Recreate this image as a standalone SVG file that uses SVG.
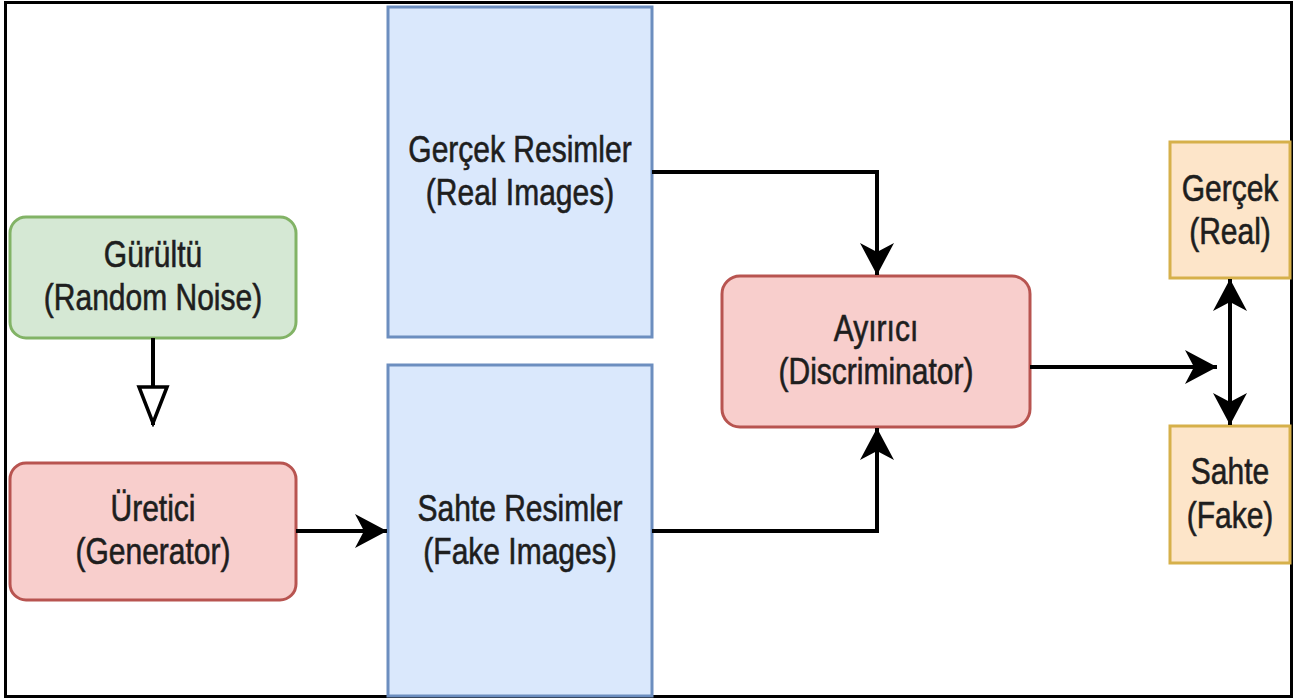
<svg xmlns="http://www.w3.org/2000/svg" width="1297" height="700" viewBox="0 0 1297 700">
<defs>
<style>
.t{font-family:"Liberation Sans",Arial,sans-serif;font-size:30px;fill:#1e1e1e;stroke:#1e1e1e;stroke-width:0.5;text-anchor:middle}
.green{fill:#d5e8d4;stroke:#82b366;stroke-width:3}
.red{fill:#f8cecc;stroke:#b85450;stroke-width:3}
.blue{fill:#dae8fc;stroke:#6c8ebf;stroke-width:3}
.orange{fill:#fde5c9;stroke:#d6b04a;stroke-width:3}
.edge{fill:none;stroke:#000;stroke-width:4}
</style>
<marker id="arr" markerUnits="userSpaceOnUse" markerWidth="34" markerHeight="36" viewBox="0 0 34 36" refX="32" refY="18" orient="auto-start-reverse">
<path d="M0,1 L32,18 L0,35 L9,18 Z" fill="#000"/>
</marker>
<marker id="open" markerUnits="userSpaceOnUse" markerWidth="42" markerHeight="34" viewBox="0 0 42 34" refX="40" refY="17" orient="auto">
<path d="M2,3 L38,17 L2,31 Z" fill="#fff" stroke="#000" stroke-width="3.5"/>
</marker>
</defs>
<rect x="0" y="0" width="1297" height="700" fill="#fff"/>
<rect x="5.5" y="2.5" width="1286" height="694" fill="#fff" stroke="#000" stroke-width="3"/>

<g id="real-images">
<rect class="blue" x="388" y="7" width="264" height="330"/>
<text class="t" transform="translate(520,162) scale(1,1.2)">Gerçek Resimler</text>
<text class="t" transform="translate(520,205) scale(1,1.2)">(Real Images)</text>
</g>
<g id="fake-images">
<rect class="blue" x="388" y="365" width="264" height="331"/>
<text class="t" transform="translate(520,521) scale(1,1.2)">Sahte Resimler</text>
<text class="t" transform="translate(520,564) scale(1,1.2)">(Fake Images)</text>
</g>
<g id="noise">
<rect class="green" x="10" y="217" width="286" height="121" rx="16"/>
<text class="t" transform="translate(153,267) scale(1,1.2)">Gürültü</text>
<text class="t" transform="translate(153,310) scale(1,1.2)">(Random Noise)</text>
</g>
<g id="generator">
<rect class="red" x="10" y="463" width="286" height="137" rx="16"/>
<text class="t" transform="translate(153,521) scale(1,1.2)">Üretici</text>
<text class="t" transform="translate(153,564) scale(1,1.2)">(Generator)</text>
</g>
<g id="discriminator">
<rect class="red" x="722" y="276" width="308" height="151" rx="18"/>
<text class="t" transform="translate(876,341) scale(1,1.2)">Ayırıcı</text>
<text class="t" transform="translate(876,384) scale(1,1.2)">(Discriminator)</text>
</g>
<g id="real">
<rect class="orange" x="1170" y="142" width="120" height="136"/>
<text class="t" transform="translate(1230,201) scale(1,1.2)">Gerçek</text>
<text class="t" transform="translate(1230,244) scale(1,1.2)">(Real)</text>
</g>
<g id="fake">
<rect class="orange" x="1170" y="426" width="120" height="137"/>
<text class="t" transform="translate(1230,484) scale(1,1.2)">Sahte</text>
<text class="t" transform="translate(1230,528) scale(1,1.2)">(Fake)</text>
</g>

<g id="connectors">
<path class="edge" d="M153,338 L153,425" marker-end="url(#open)"/>
<path class="edge" d="M296,531 L387,531" marker-end="url(#arr)"/>
<path class="edge" d="M652,172 L877,172 L877,275" marker-end="url(#arr)"/>
<path class="edge" d="M652,531 L877,531 L877,428" marker-end="url(#arr)"/>
<path class="edge" d="M1030,367 L1217,367" marker-end="url(#arr)"/>
<path class="edge" d="M1230,279 L1230,425" marker-start="url(#arr)" marker-end="url(#arr)"/>
</g>
</svg>
